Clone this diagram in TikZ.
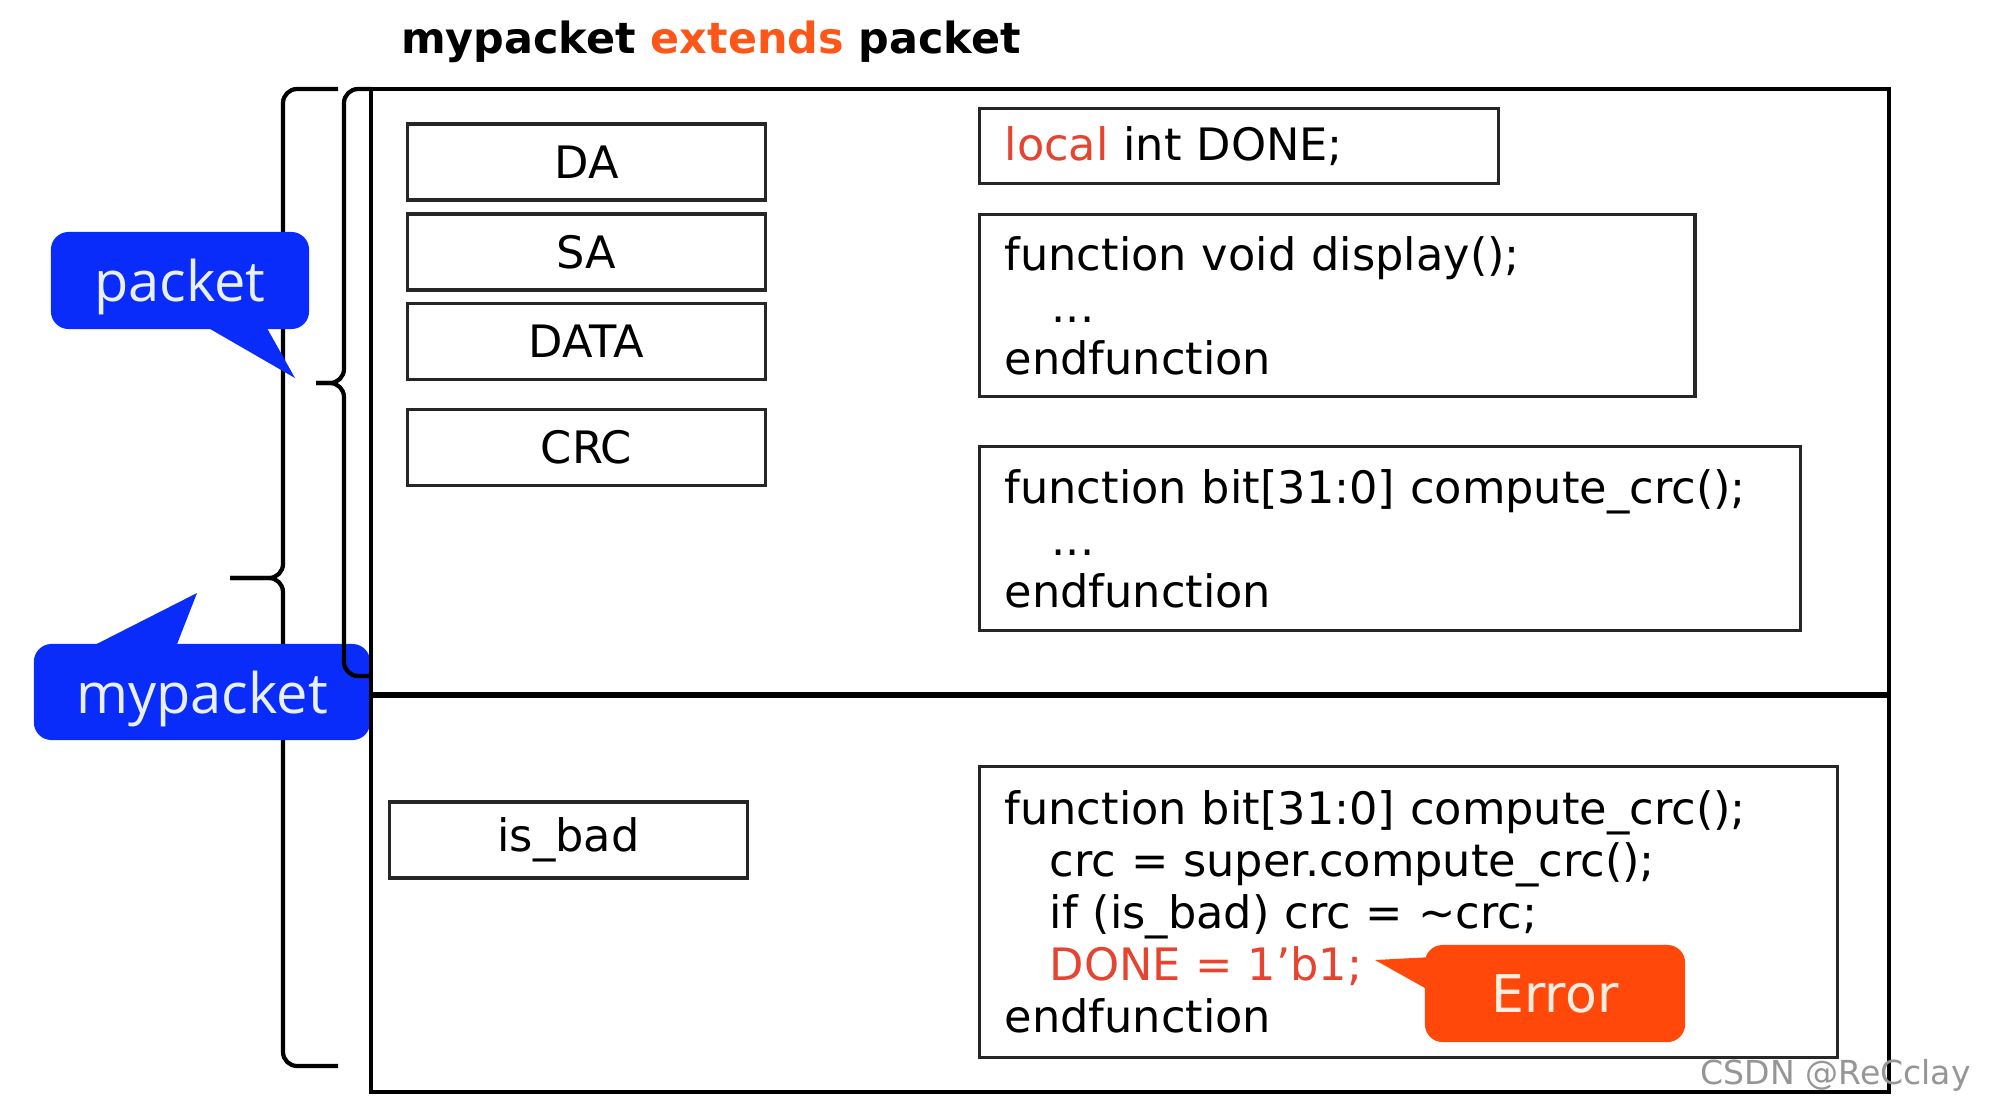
\documentclass[tikz,border=0pt]{standalone}
\usepackage{fontspec}
\setmainfont{DejaVu Sans}
\newfontfamily\tagfamily{Open Sans}
\usepackage{tikz}
\usetikzlibrary{shapes, arrows.meta, positioning, calc, backgrounds}
\definecolor{tagBlue}{RGB}{10, 44, 250}
\definecolor{tagText}{RGB}{232, 240, 255}
\definecolor{errOrange}{RGB}{255, 72, 10}
\definecolor{errText}{RGB}{255, 236, 222}
\definecolor{codeRed}{RGB}{228, 68, 48}
\definecolor{extOrange}{RGB}{252, 86, 24}
\definecolor{markGray}{RGB}{150, 150, 150}
\newcommand{\codefont}{\fontsize{12.7pt}{14.8pt}\selectfont}

\begin{document}
\begin{tikzpicture}[x=0.01cm, y=-0.01cm,
    fieldbox/.style={draw=black!85, line width=0.9pt, minimum width=3.57cm, minimum height=0.76cm, inner sep=0pt, font=\codefont},
    codebox/.style={draw=black!85, line width=0.9pt, anchor=north west, align=left, inner xsep=0.25cm, inner ysep=0pt, font=\codefont},
    tagbox/.style={fill=tagBlue, text=tagText, rounded corners=5pt, inner sep=0pt, text depth=0pt, font=\tagfamily\fontsize{15.9pt}{18pt}\selectfont},
    bracket/.style={line width=1.2pt, rounded corners=4pt}]
    \useasboundingbox (0,0) rectangle (2000,1114);
    \fill[white] (0,0) rectangle (2000,1114);

    % Title
    \node[font=\bfseries\fontsize{12.2pt}{14pt}\selectfont] (title) at (711,42) {mypacket {\color{extOrange}extends} packet};

    % Brace of mypacket
    \draw[bracket] (338,89) -- (283,89) -- (283,578) -- (230,578);
    \draw[bracket] (230,578) -- (283,578) -- (283,1066) -- (338,1066);

    % Fields
    \foreach \fname/\yy in {DA/162, SA/252, DATA/341.5, CRC/447.5}
        \node[fieldbox] (f\fname) at (586.5,\yy) {\fname};
    \node[fieldbox] (fbad) at (568.5,840) {is\_bad};

    % Methods of packet
    \node[codebox, text width=4.69cm, minimum height=0.75cm] (donebox) at (978,107) {{\color{codeRed}local} int DONE;};
    \node[codebox, text width=6.65cm, minimum height=1.82cm] (displaybox) at (978,213) {
        function void display();\\
        \hspace*{0.47cm}...\\
        endfunction};
    \node[codebox, text width=7.70cm, minimum height=1.84cm] (crcbox) at (978,445) {
        function bit[31:0] compute\_crc();\\
        \hspace*{0.47cm}...\\
        endfunction};

    % Method of mypacket
    \node[codebox, text width=8.07cm, minimum height=2.91cm] (newcrcbox) at (978,765) {
        function bit[31:0] compute\_crc();\\
        \hspace*{0.45cm}crc = super.compute\_crc();\\
        \hspace*{0.45cm}if (is\_bad) crc = \textasciitilde crc;\\
        \hspace*{0.45cm}{\color{codeRed}DONE = 1'b1;}\\
        endfunction};

    % Callouts
    \coordinate (packettip) at (295,378);
    \coordinate (mypackettip) at (197,593);
    \coordinate (errtip) at (1375,960);
    \node[tagbox, minimum width=2.58cm, minimum height=0.97cm] (packetlbl) at (180,280.5) {packet};
    \fill[tagBlue] ($(packetlbl.south west)+(156,-3)$) -- (packettip) -- ($(packetlbl.south west)+(216,-3)$) -- cycle;
    \node[tagbox, minimum width=3.36cm, minimum height=0.96cm] (mypacketlbl) at (202,692) {mypacket};
    \fill[tagBlue] ($(mypacketlbl.north west)+(59,3)$) -- (mypackettip) -- ($(mypacketlbl.north west)+(143,3)$) -- cycle;
    \node[fill=errOrange, text=errText, rounded corners=5pt, inner sep=0pt, minimum width=2.6cm, minimum height=0.97cm, font=\fontsize{14.8pt}{17pt}\selectfont] (errlbl) at (1555,993.5) {Error};
    \fill[errOrange] ($(errlbl.north west)+(3,13)$) -- (errtip) -- ($(errlbl.north west)+(3,45)$) -- cycle;

    % Class frame: packet part on top, mypacket part below
    \draw[line width=1.2pt] (371,89) rectangle (1889,1092);
    \draw[line width=1.8pt] (371,695) -- (1889,695);

    % Brace of packet
    \draw[bracket] (371,89) -- (344,89) -- (344,383) -- (316,383);
    \draw[bracket] (316,383) -- (344,383) -- (344,676) -- (371,676);

    % Watermark
    \node[text=markGray, font=\fontsize{9.4pt}{11pt}\selectfont, anchor=west, inner sep=0pt] (watermark) at (1700,1075) {CSDN @ReCclay};
\end{tikzpicture}
\end{document}
